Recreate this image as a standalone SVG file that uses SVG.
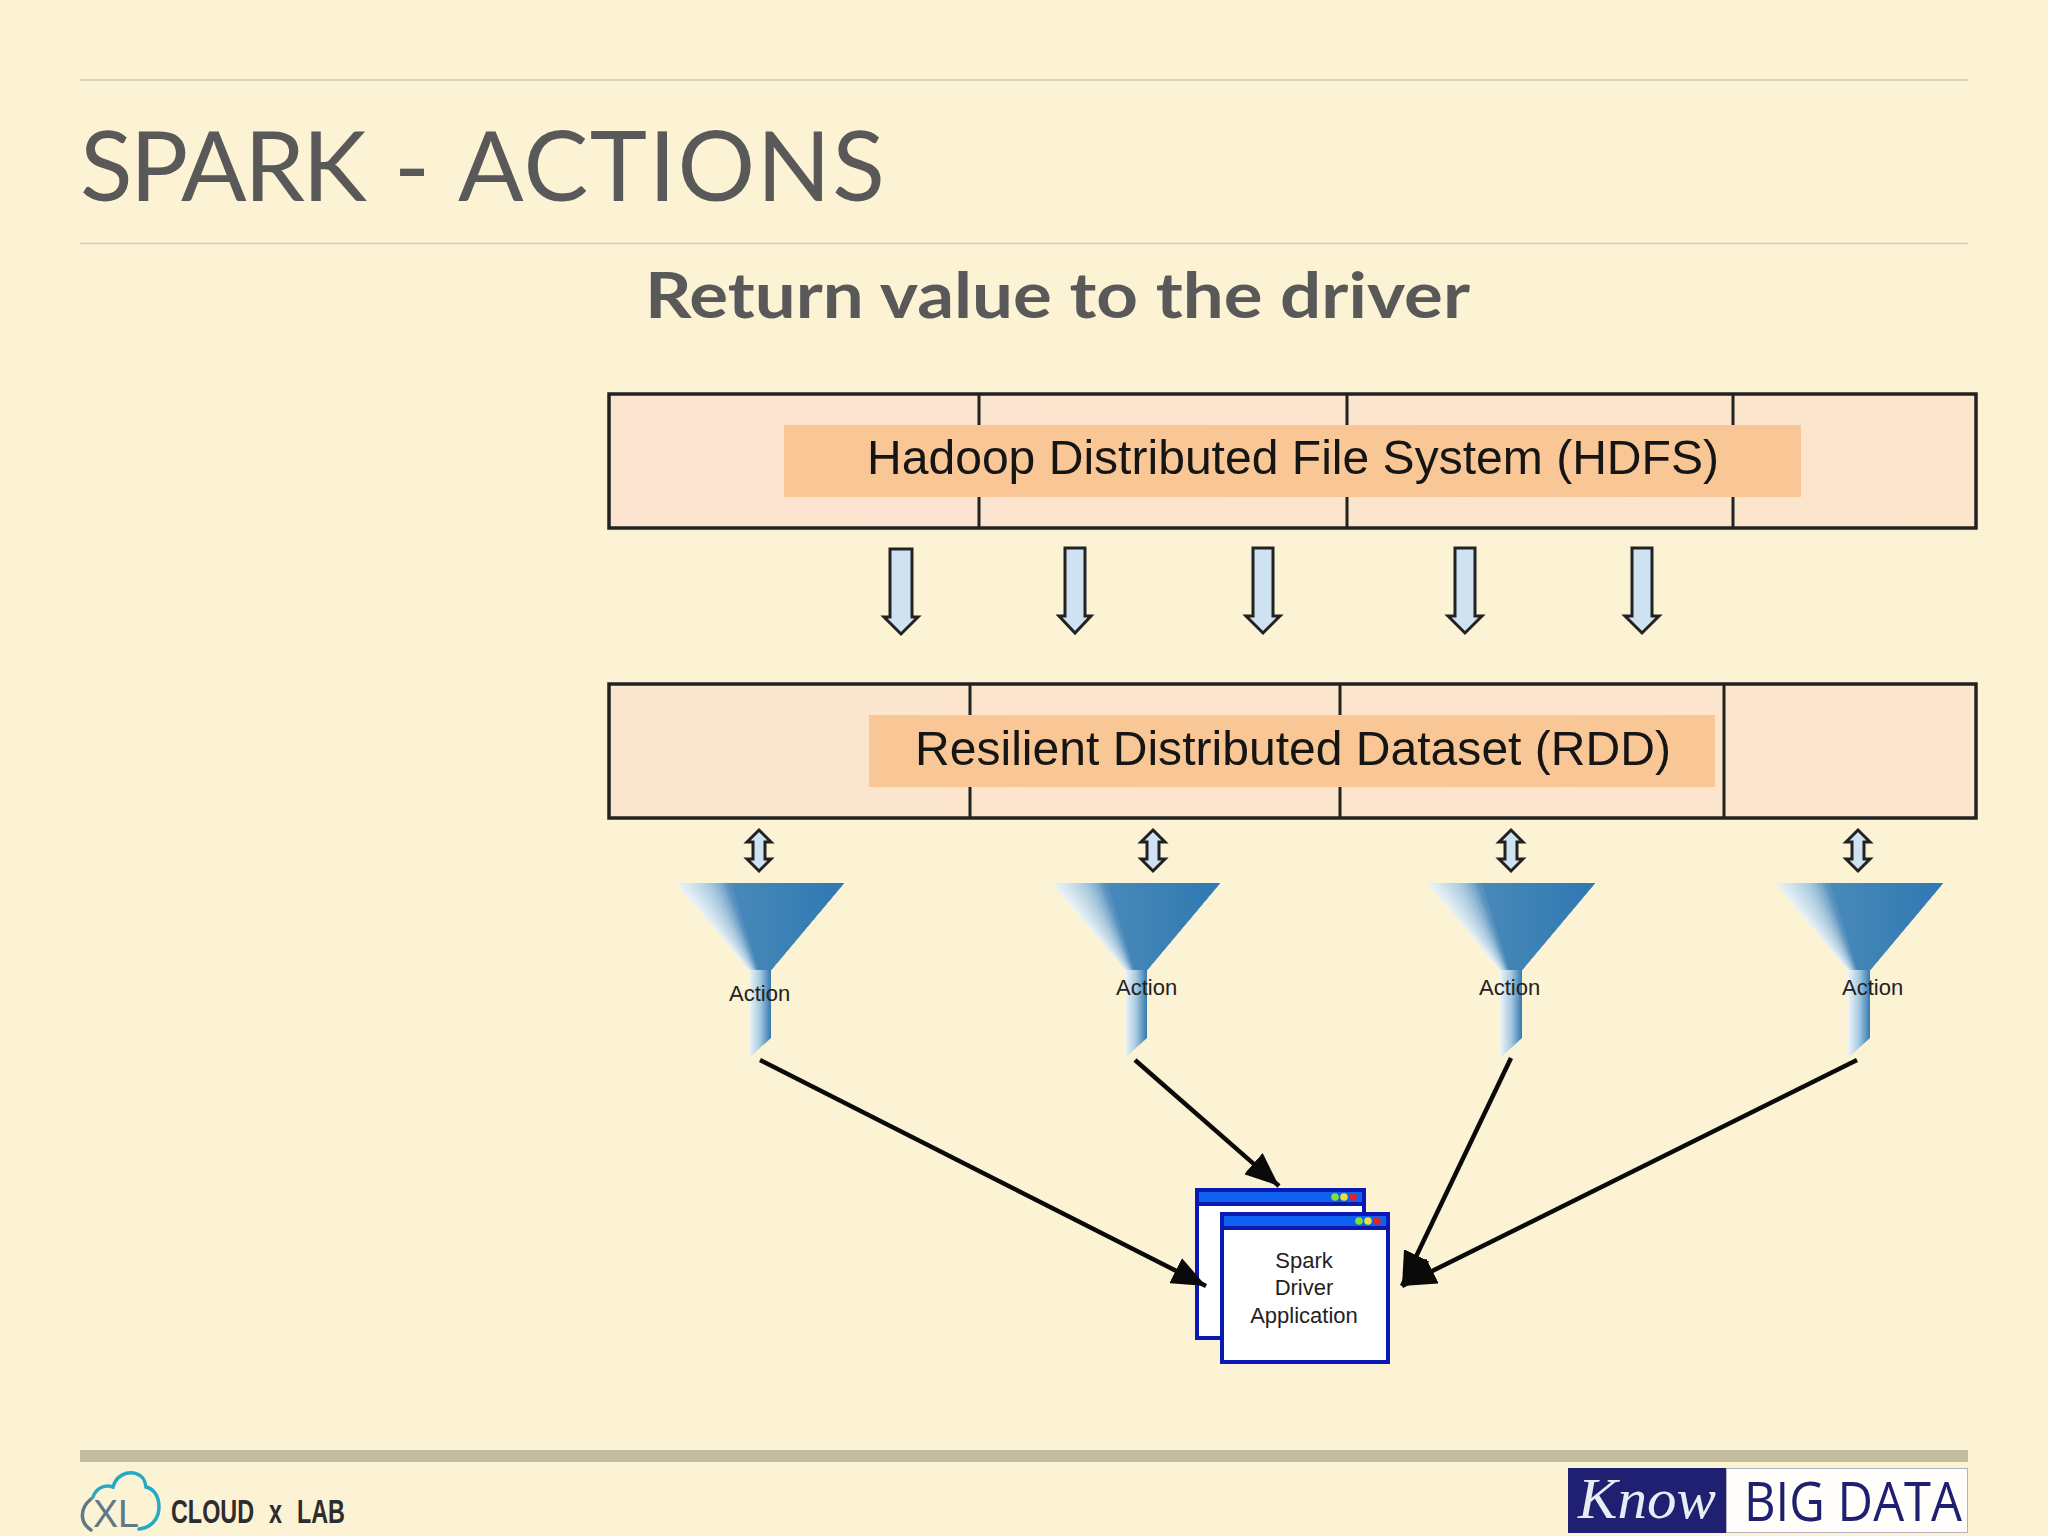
<svg xmlns="http://www.w3.org/2000/svg" xmlns:xlink="http://www.w3.org/1999/xlink" width="2048" height="1536" viewBox="0 0 2048 1536">
<style>
.rule{stroke:#d3ccb0;stroke-width:1.5;fill:none}
.title{font-family:"Lato","Liberation Sans",sans-serif;font-size:97px;fill:#595959}
.sub{font-family:"Lato","Liberation Sans",sans-serif;font-weight:700;font-size:64px;fill:#595959}
.band{stroke:#222;stroke-width:3.5}
.div{stroke:#222;stroke-width:3;fill:none}
.label{fill:#f9c795}
.big{font-family:"Liberation Sans",Arial,sans-serif;font-size:48px;fill:#151515}
.arrow{fill:#cfe2f2;stroke:#222;stroke-width:3;stroke-linejoin:miter}
.act{font-family:"Liberation Sans",Arial,sans-serif;font-size:22px;fill:#222}
.win{fill:#fff;stroke:#0a18b4;stroke-width:4}
.bar{fill:#0d63ef;stroke:#0a18b4;stroke-width:4}
.app{font-family:"Liberation Sans",Arial,sans-serif;font-size:22px;fill:#222;text-anchor:middle}
.conn{stroke:#0a0a0a;stroke-width:4.5;fill:none;marker-end:url(#head)}
</style>
<defs>
<linearGradient id="bg1" x1="0" x2="1" y1="0" y2="0"><stop offset="0" stop-color="#fce4d0"/><stop offset="1" stop-color="#fbe6cc"/></linearGradient>
<linearGradient id="bg2" x1="0" x2="1" y1="0" y2="0"><stop offset="0" stop-color="#fae6cc"/><stop offset="1" stop-color="#fbe5cd"/></linearGradient>
<linearGradient id="neck" x1="0" x2="1" y1="0" y2="0"><stop offset="0" stop-color="#eef5f8"/><stop offset="0.5" stop-color="#a8cae0"/><stop offset="1" stop-color="#3379b0"/></linearGradient>
<linearGradient id="coneR" gradientUnits="userSpaceOnUse" x1="-40" x2="84" y1="0" y2="0"><stop offset="0" stop-color="#4a8bba"/><stop offset="0.5" stop-color="#3d82b6"/><stop offset="1" stop-color="#2f78b2"/></linearGradient>
<marker id="head" viewBox="0 0 10 10" refX="10" refY="5" markerUnits="userSpaceOnUse" markerWidth="34" markerHeight="28" orient="auto" preserveAspectRatio="none"><path d="M0 0L10 5L0 10z" fill="#0a0a0a"/></marker>
<g id="funnel">
<polygon points="-84,883 84,883 11,970 -11,970" fill="#e8f1f5"/>
<polygon points="-80,883 84,883 11,970 -10.500,970" fill="#e1edf3"/>
<polygon points="-76,883 84,883 11,970 -10,970" fill="#dae9f1"/>
<polygon points="-72,883 84,883 11,970 -9.500,970" fill="#d3e4ee"/>
<polygon points="-68,883 84,883 11,970 -9,970" fill="#cbdfeb"/>
<polygon points="-64,883 84,883 11,970 -8.500,970" fill="#c3dae8"/>
<polygon points="-60,883 84,883 11,970 -8,970" fill="#bbd5e5"/>
<polygon points="-56,883 84,883 11,970 -7.500,970" fill="#b3d0e2"/>
<polygon points="-53,883 84,883 11,970 -7,970" fill="#abcade"/>
<polygon points="-50,883 84,883 11,970 -6.500,970" fill="#a2c4db"/>
<polygon points="-47,883 84,883 11,970 -6,970" fill="#98bdd7"/>
<polygon points="-44,883 84,883 11,970 -5.500,970" fill="#8db6d3"/>
<polygon points="-42,883 84,883 11,970 -5,970" fill="#82afcf"/>
<polygon points="-39,883 84,883 11,970 -4.500,970" fill="#77a7cb"/>
<polygon points="-37,883 84,883 11,970 -4,970" fill="#6b9fc6"/>
<polygon points="-35,883 84,883 11,970 -3.500,970" fill="#6198c2"/>
<polygon points="-33,883 84,883 11,970 -3,970" fill="#5792be"/>
<polygon points="-29,883 84,883 11,970 -2,970" fill="url(#coneR)"/>
<polygon points="-11,970 11,970 11,1038 -11,1058" fill="url(#neck)"/>
</g>
</defs>
<rect width="2048" height="1536" fill="#fcf2d4"/>
<line class="rule" x1="80" y1="80" x2="1968" y2="80"/>
<line class="rule" x1="80" y1="243.500" x2="1968" y2="243.500"/>
<text class="title" x="80" y="201"><tspan letter-spacing="-2.500">SPARK</tspan><tspan dx="5"> - </tspan><tspan dx="3" letter-spacing="1.600">ACTIONS</tspan></text>
<text class="sub" x="645" y="318" textLength="825" lengthAdjust="spacingAndGlyphs">Return value to the driver</text>

<g id="hdfs">
<rect class="band" x="609" y="394" width="1367" height="134" fill="url(#bg1)"/>
<path class="div" d="M979 394V528M1347 394V528M1733 394V528"/>
<rect class="label" x="784" y="425" width="1017" height="72"/>
<text class="big" x="867" y="474" textLength="852" lengthAdjust="spacingAndGlyphs">Hadoop Distributed File System (HDFS)</text>
</g>
<g id="rdd">
<rect class="band" x="609" y="684" width="1367" height="134" fill="url(#bg2)"/>
<path class="div" d="M970 684V818M1340 684V818M1724 684V818"/>
<rect class="label" x="869" y="715" width="846" height="72"/>
<text class="big" x="915" y="765" textLength="756" lengthAdjust="spacingAndGlyphs">Resilient Distributed Dataset (RDD)</text>
</g>

<g id="flow-arrows">
<path class="arrow" d="M890 549H912V617H918L901 634L884 617H890z"/>
<path class="arrow" d="M1065 548H1085V616H1091L1075 633L1059 616H1065z"/>
<path class="arrow" d="M1253 548H1273V616H1280L1263 633L1246 616H1253z"/>
<path class="arrow" d="M1455 548H1475V616H1482L1465 633L1448 616H1455z"/>
<path class="arrow" d="M1632 548H1652V616H1659L1642 633L1625 616H1632z"/>
<path class="arrow" d="M759 830L771 842H765V859H771L759 871L747 859H753V842H747z"/>
<path class="arrow" d="M1153 830L1165 842H1159V859H1165L1153 871L1141 859H1147V842H1141z"/>
<path class="arrow" d="M1511 830L1523 842H1517V859H1523L1511 871L1499 859H1505V842H1499z"/>
<path class="arrow" d="M1858 830L1870 842H1864V859H1870L1858 871L1846 859H1852V842H1846z"/>
</g>

<g id="action1"><use xlink:href="#funnel" href="#funnel" x="760" y="0"/><text class="act" x="729" y="1001">Action</text></g>
<g id="action2"><use xlink:href="#funnel" href="#funnel" x="1136" y="0"/><text class="act" x="1116" y="995">Action</text></g>
<g id="action3"><use xlink:href="#funnel" href="#funnel" x="1511" y="0"/><text class="act" x="1479" y="995">Action</text></g>
<g id="action4"><use xlink:href="#funnel" href="#funnel" x="1859" y="0"/><text class="act" x="1842" y="995">Action</text></g>

<g id="driver">
<rect class="win" x="1197" y="1190" width="167" height="148"/>
<rect class="bar" x="1197" y="1190" width="167" height="14"/>
<circle cx="1335" cy="1197" r="3.800" fill="#7ee03a"/><circle cx="1344" cy="1197" r="3.800" fill="#e6e23a"/><circle cx="1353" cy="1197" r="3.800" fill="#e0242a"/>
<rect class="win" x="1222" y="1214" width="166" height="148"/>
<rect class="bar" x="1222" y="1214" width="166" height="14"/>
<circle cx="1359" cy="1221" r="3.800" fill="#7ee03a"/><circle cx="1368" cy="1221" r="3.800" fill="#e6e23a"/><circle cx="1377" cy="1221" r="3.800" fill="#e0242a"/>
<text class="app" x="1304" y="1268">Spark</text>
<text class="app" x="1304" y="1295">Driver</text>
<text class="app" x="1304" y="1323">Application</text>
</g>

<g id="connectors">
<line class="conn" x1="760" y1="1060" x2="1206" y2="1286"/>
<line class="conn" x1="1135" y1="1060" x2="1279" y2="1186"/>
<line class="conn" x1="1511" y1="1058" x2="1402" y2="1286"/>
<line class="conn" x1="1857" y1="1060" x2="1402" y2="1286"/>
</g>

<g id="footer">
<rect x="80" y="1450" width="1888" height="12" fill="#c3bd9f"/>
<path d="M93 1497C96 1488 105 1484 113 1487C116 1476 127 1470 137 1474C143 1476 145 1480 146 1487C155 1489 159 1498 159 1507C159 1520 150 1528 139 1529" fill="none" stroke="#27a9c6" stroke-width="3.500" stroke-linecap="round"/>
<path d="M91 1499C80 1508 79 1522 91 1530" fill="none" stroke="#5e7887" stroke-width="3.500" stroke-linecap="round"/>
<text x="93" y="1527" font-family="'Liberation Sans',sans-serif" font-size="38" fill="#5e7887" textLength="46" lengthAdjust="spacingAndGlyphs">XL</text>
<text x="171" y="1523" font-family="'Liberation Sans',Arial,sans-serif" font-weight="700" font-size="33" word-spacing="12" fill="#2d2d2d" textLength="174" lengthAdjust="spacingAndGlyphs">CLOUD x LAB</text>
<rect x="1568" y="1468" width="158" height="65" fill="#1f2071"/>
<rect x="1726.500" y="1468.500" width="241" height="64" fill="#fffefb" stroke="#b4b0c0" stroke-width="1"/>
<text x="1578" y="1518" font-family="'Liberation Serif',serif" font-style="italic" font-size="58" fill="#e8ecf4" textLength="138" lengthAdjust="spacingAndGlyphs">Know</text>
<text x="1744" y="1521" font-family="'Open Sans','Liberation Sans',sans-serif" font-size="54" font-weight="500" fill="#1f2071" textLength="218" lengthAdjust="spacingAndGlyphs">BIG DATA</text>
</g>
</svg>
